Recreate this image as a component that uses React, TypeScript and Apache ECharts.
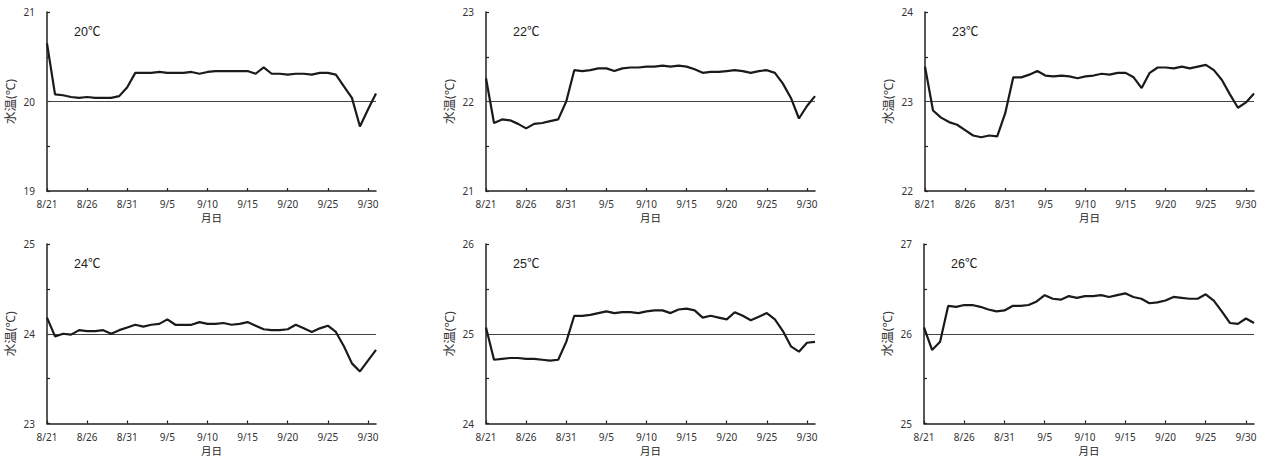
import React, { useEffect, useRef } from "react";
import * as echarts from "echarts";

const dates = [
  "8/21", "8/22", "8/23", "8/24", "8/25", "8/26", "8/27", "8/28", "8/29", "8/30", "8/31",
  "9/1", "9/2", "9/3", "9/4", "9/5", "9/6", "9/7", "9/8", "9/9", "9/10",
  "9/11", "9/12", "9/13", "9/14", "9/15", "9/16", "9/17", "9/18", "9/19", "9/20",
  "9/21", "9/22", "9/23", "9/24", "9/25", "9/26", "9/27", "9/28", "9/29", "9/30", "10/1",
];

const setTemps = [20, 22, 23, 24, 25, 26];
const panelTitles = ["20℃", "22℃", "23℃", "24℃", "25℃", "26℃"];

const temp20 = [
  20.65, 20.08, 20.07, 20.05, 20.04, 20.05, 20.04, 20.04, 20.04, 20.06, 20.16,
  20.32, 20.32, 20.32, 20.33, 20.32, 20.32, 20.32, 20.33, 20.31, 20.33,
  20.34, 20.34, 20.34, 20.34, 20.34, 20.31, 20.38, 20.31, 20.31, 20.3,
  20.31, 20.31, 20.3, 20.32, 20.32, 20.3, 20.17, 20.04, 19.72, 19.91, 20.09,
];
const temp22 = [
  22.26, 21.76, 21.8, 21.79, 21.75, 21.7, 21.75, 21.76, 21.78, 21.8, 22.0,
  22.35, 22.34, 22.35, 22.37, 22.37, 22.34, 22.37, 22.38, 22.38, 22.39,
  22.39, 22.4, 22.39, 22.4, 22.39, 22.36, 22.32, 22.33, 22.33, 22.34,
  22.35, 22.34, 22.32, 22.34, 22.35, 22.32, 22.2, 22.04, 21.81, 21.95, 22.06,
];
const temp23 = [
  23.39, 22.9, 22.82, 22.77, 22.74, 22.68, 22.62, 22.6, 22.62, 22.61, 22.87,
  23.27, 23.27, 23.3, 23.34, 23.29, 23.28, 23.29, 23.28, 23.26, 23.28,
  23.29, 23.31, 23.3, 23.32, 23.32, 23.27, 23.15, 23.32, 23.38, 23.38,
  23.37, 23.39, 23.37, 23.39, 23.41, 23.35, 23.24, 23.08, 22.93, 22.99, 23.09,
];
const temp24 = [
  24.18, 23.97, 24.0, 23.99, 24.04, 24.03, 24.03, 24.04, 24.0, 24.04, 24.07,
  24.1, 24.08, 24.1, 24.11, 24.16, 24.1, 24.1, 24.1, 24.13, 24.11,
  24.11, 24.12, 24.1, 24.11, 24.13, 24.09, 24.05, 24.04, 24.04, 24.05,
  24.1, 24.06, 24.02, 24.06, 24.09, 24.02, 23.86, 23.67, 23.58, 23.7, 23.82,
];
const temp25 = [
  25.07, 24.71, 24.72, 24.73, 24.73, 24.72, 24.72, 24.71, 24.7, 24.71, 24.91,
  25.2, 25.2, 25.21, 25.23, 25.25, 25.23, 25.24, 25.24, 25.23, 25.25,
  25.26, 25.26, 25.23, 25.27, 25.28, 25.26, 25.18, 25.2, 25.18, 25.16,
  25.24, 25.2, 25.15, 25.19, 25.23, 25.16, 25.03, 24.86, 24.8, 24.9, 24.91,
];
const temp26 = [
  26.07, 25.82, 25.91, 26.31, 26.3, 26.32, 26.32, 26.3, 26.27, 26.25, 26.26,
  26.31, 26.31, 26.32, 26.36, 26.43, 26.39, 26.38, 26.42, 26.4, 26.42,
  26.42, 26.43, 26.41, 26.43, 26.45, 26.41, 26.39, 26.34, 26.35, 26.37,
  26.41, 26.4, 26.39, 26.39, 26.44, 26.37, 26.25, 26.12, 26.11, 26.17, 26.12,
];

const seriesData = [temp20, temp22, temp23, temp24, temp25, temp26];

const grids = [
  { left: 47, top: 12, width: 329, height: 179 },
  { left: 486, top: 12, width: 329, height: 179 },
  { left: 925, top: 12, width: 329, height: 179 },
  { left: 47, top: 244, width: 329, height: 180 },
  { left: 486, top: 244, width: 329, height: 180 },
  { left: 924, top: 244, width: 330, height: 180 },
];

const FONT = "'Noto Sans', 'Noto Sans CJK JP', sans-serif";

export default function App() {
  const ref = useRef<HTMLDivElement>(null);
  useEffect(() => {
    if (!ref.current) return;
    const chart = echarts.init(ref.current, undefined, { renderer: "svg" });
    const option: any = {
      animation: false,
      backgroundColor: "#ffffff",
      grid: grids.map((g) => ({ ...g, containLabel: false })),
      title: panelTitles.map((t, i) => ({
        text: t,
        left: grids[i].left + 27,
        top: grids[i].top + 14,
        padding: 0,
        textStyle: {
          fontSize: 12.5,
          fontWeight: "normal",
          color: "#222",
          fontFamily: "'Liberation Sans', Arial, 'Noto Sans CJK JP', sans-serif",
        },
      })),
      xAxis: grids.map((_, i) => ({
        type: "category",
        gridIndex: i,
        data: dates,
        boundaryGap: false,
        name: "月日",
        nameLocation: "middle",
        nameGap: 22,
        nameTextStyle: { fontSize: 10.5, color: "#222", fontFamily: FONT },
        axisLine: { lineStyle: { color: "#222", width: 1.5 } },
        axisTick: { inside: true, length: 3, interval: 4, lineStyle: { color: "#222", width: 1.2 } },
        axisLabel: { interval: 4, fontSize: 10, color: "#333", margin: 8, fontFamily: FONT },
        splitLine: { show: false },
      })),
      yAxis: grids.map((_, i) => ({
        type: "value",
        gridIndex: i,
        min: setTemps[i] - 1,
        max: setTemps[i] + 1,
        interval: 0.5,
        name: "水温(℃)",
        nameLocation: "middle",
        nameGap: 30,
        nameRotate: 90,
        nameTextStyle: { fontSize: 12.5, color: "#333", fontFamily: FONT },
        axisLine: { show: true, lineStyle: { color: "#222", width: 1.5 } },
        axisTick: { show: true, inside: true, length: 3, lineStyle: { color: "#222", width: 1.2 } },
        axisLabel: {
          fontSize: 10,
          color: "#333",
          margin: 12,
          fontFamily: FONT,
          formatter: (v: number) => (Number.isInteger(v) ? String(v) : ""),
        },
        splitLine: { show: false },
      })),
      series: seriesData.map((d, i) => ({
        type: "line",
        xAxisIndex: i,
        yAxisIndex: i,
        data: d,
        showSymbol: false,
        symbol: "none",
        lineStyle: { color: "#1a1a1a", width: 2.2 },
        z: 3,
        markLine: {
          silent: true,
          symbol: "none",
          label: { show: false },
          lineStyle: { color: "#444", width: 1, type: "solid" },
          data: [{ yAxis: setTemps[i] }],
          z: 2,
        },
      })),
    };
    chart.setOption(option);
    return () => chart.dispose();
  }, []);
  return (
    <div
      ref={ref}
      style={{ position: "absolute", left: 0, top: 0, width: 1262, height: 457 }}
    />
  );
}
